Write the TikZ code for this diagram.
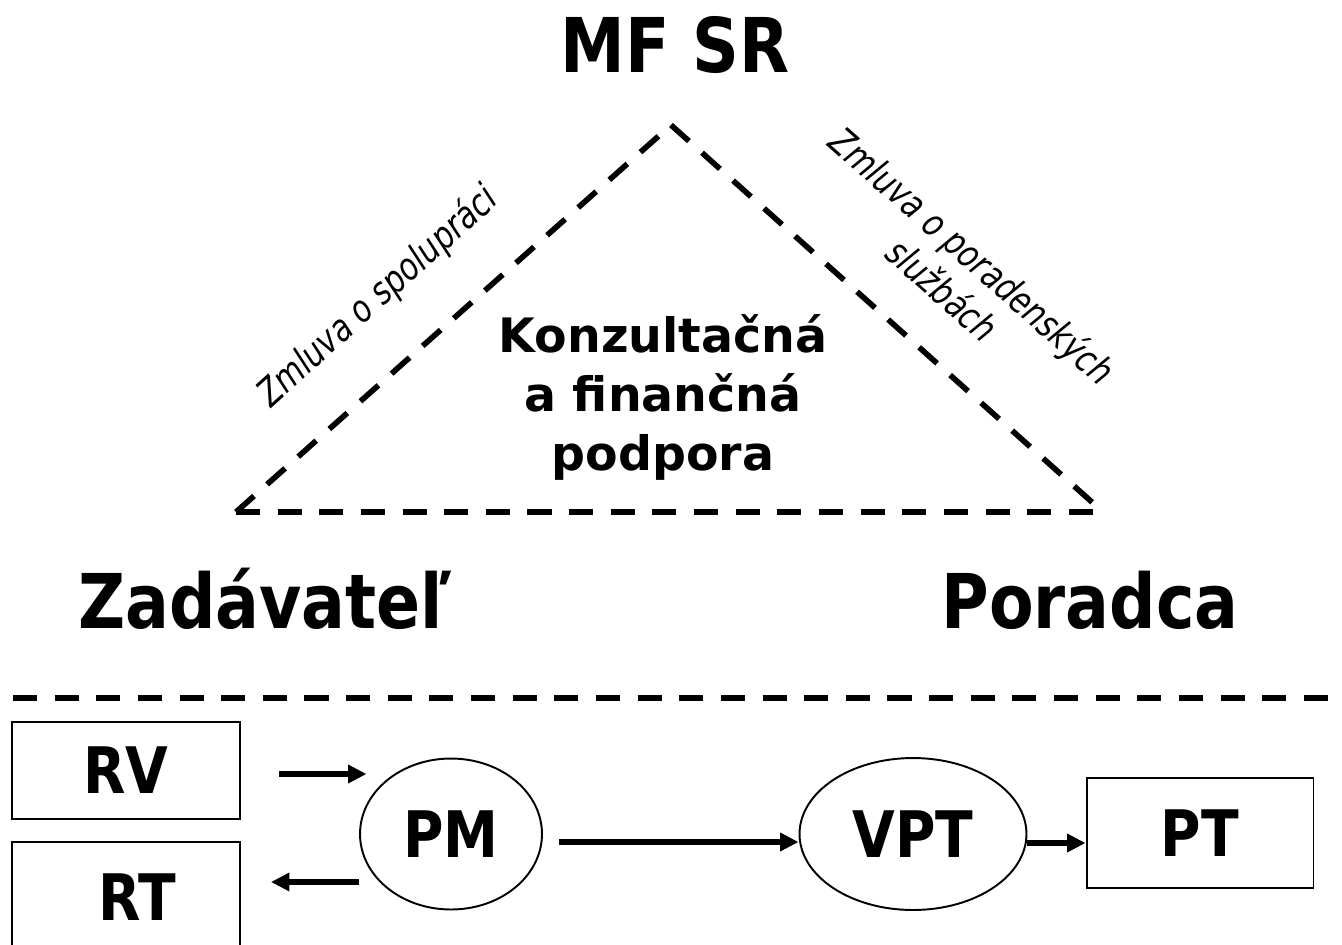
\documentclass[tikz,border=0pt]{standalone}
\usepackage{fontspec}
\setmainfont{DejaVu Sans}
\newfontfamily\narrowfont[FakeStretch=0.86]{DejaVu Sans}
\newfontfamily\labelfont[FakeStretch=0.8]{DejaVu Sans}
\usetikzlibrary{arrows.meta}
\usetikzlibrary{shapes.geometric}

\begin{document}
\begin{tikzpicture}[x=0.02cm, y=-0.02cm,
        party/.style={inner sep=0pt, anchor=base, font=\narrowfont\bfseries\fontsize{43}{50}\selectfont},
        contract/.style={inner sep=0pt, align=center, font=\labelfont\itshape\fontsize{21.5}{26}\selectfont},
        unit/.style={draw, line width=1.1pt, inner sep=0pt, font=\narrowfont\bfseries\fontsize{36.5}{40}\selectfont},
        dashline/.style={line width=3.2pt, dash pattern=on 13.7pt off 10pt},
        arr/.style={line width=3.4pt, -{Triangle[length=10.5pt,width=10pt]}}]
    \useasboundingbox (0,0) rectangle (1342,944);
    % triangle of the three parties
    \coordinate (top) at (671,125);
    \coordinate (left) at (236,512);
    \coordinate (right) at (1103,512);
    \draw[dashline] (left) -- (top);
    \draw[dashline] (top) -- (right);
    \draw[dashline] (left) -- (right);
    \node[party] (mf) at (675,72) {MF SR};
    \node[party] (zad) at (265,628) {Zadávateľ};
    \node[party] (por) at (1090,628) {Poradca};
    \node[contract, rotate=42] (spol) at (378,297) {Zmluva o spolupráci};
    \node[contract, rotate=-41.5] (sluz) at (958,272) {Zmluva o poradenských\\službách};
    \node[inner sep=0pt, align=center, font=\bfseries\fontsize{27}{33.6}\selectfont] (podpora) at (663,397) {Konzultačná\\a finančná\\podpora};
    % divider
    \coordinate (divL) at (13,698);
    \coordinate (divR) at (1342,698);
    \draw[dashline] (divL) -- (divR);
    % lower row
    \node[unit, minimum width=4.56cm, minimum height=1.94cm] (RV) at (126,770.5) {RV};
    \node[unit, minimum width=4.56cm, minimum height=2.2cm] (RT) at (126,897) {\hspace*{0.45cm}RT};
    \node[unit, ellipse, minimum width=3.64cm, minimum height=3.02cm] (PM) at (451,834) {PM};
    \node[unit, ellipse, minimum width=4.54cm, minimum height=3.04cm] (VPT) at (913,834) {VPT};
    \node[unit, minimum width=4.54cm, minimum height=2.2cm] (PT) at (1200,833) {PT};
    \draw[arr, shorten <=0.76cm, shorten >=-0.15cm] ([yshift=-0.07cm]RV.east) -- ([yshift=-0.07cm]RV.east -| PM.west);
    \draw[arr, shorten >=0.6cm] ([yshift=-0.96cm]PM.west) -- ([yshift=-0.96cm]PM.west -| RT.east);
    \draw[arr, shorten <=0.32cm] ([yshift=-0.16cm]PM.east) -- ([yshift=-0.16cm]VPT.west);
    \draw[arr] ([yshift=-0.18cm]VPT.east) -- ([yshift=-0.18cm]VPT.east -| PT.west);
\end{tikzpicture}
\end{document}
